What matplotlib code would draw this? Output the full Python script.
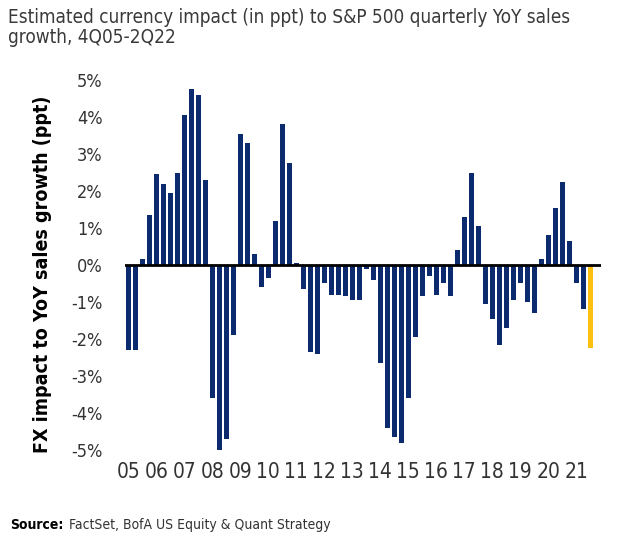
import matplotlib
matplotlib.use("Agg")
import matplotlib.pyplot as plt

plt.rcParams['font.family'] = ['DejaVu Sans']
plt.rcParams['font.stretch'] = 'condensed'

# quarterly FX impact (ppt), 4Q05 .. 2Q22
quarters = ['4Q05'] + ['%dQ%02d' % (q, y) for y in range(6, 22) for q in range(1, 5)] + ['1Q22', '2Q22']
fx_impact = [
    -2.3,                      # 2005 Q4
    -2.3, 0.15, 1.35, 2.45,    # 2006
    2.2, 1.95, 2.5, 4.05,      # 2007
    4.75, 4.6, 2.3, -3.6,      # 2008
    -5.0, -4.7, -1.9, 3.55,    # 2009
    3.3, 0.3, -0.6, -0.35,     # 2010
    1.2, 3.8, 2.75, 0.05,      # 2011
    -0.65, -2.35, -2.4, -0.5,  # 2012
    -0.8, -0.8, -0.85, -0.95,  # 2013
    -0.95, -0.1, -0.4, -2.65,  # 2014
    -4.4, -4.65, -4.8, -3.6,   # 2015
    -1.95, -0.85, -0.3, -0.8,  # 2016
    -0.5, -0.85, 0.4, 1.3,     # 2017
    2.5, 1.05, -1.05, -1.45,   # 2018
    -2.15, -1.7, -0.95, -0.5,  # 2019
    -1.0, -1.3, 0.15, 0.8,     # 2020
    1.55, 2.25, 0.65, -0.5,    # 2021
    -1.2, -2.25,               # 2022
]
year_labels = ['%02d' % y for y in range(5, 22)]
y_ticks = [5, 4, 3, 2, 1, 0, -1, -2, -3, -4, -5]

navy = '#0c2b6e'
gold = '#fcc010'
grey = '#333333'

colors = [navy] * (len(fx_impact) - 1) + [gold]
x = list(range(len(fx_impact)))

fig = plt.figure(figsize=(6.3, 5.36), dpi=100)
ax = fig.add_axes([0.1981, 0.1399, 0.7556, 0.7314])

ax.bar(x, fx_impact, width=0.68, color=colors, zorder=2)
ax.axhline(0, color='black', linewidth=2, zorder=3)

ax.set_xlim(-0.5, 67.5)
ax.set_ylim(-5.3, 5.3)

# year labels sit under the 4th quarter of each year
ax.set_xticks([quarters.index('4Q%s' % yl) for yl in year_labels])
ax.set_xticklabels(year_labels, fontsize=15, color=grey)
ax.set_yticks(y_ticks)
ax.set_yticklabels(['%d%%' % v for v in y_ticks], fontsize=13, color=grey)
ax.tick_params(axis='x', length=0, pad=1)
ax.tick_params(axis='y', length=0, pad=16)

for s in ax.spines.values():
    s.set_visible(False)

ax.set_ylabel('FX impact to YoY sales growth (ppt)', fontsize=14, fontweight='bold',
              color='black')
ax.yaxis.set_label_coords(-0.152, 0.475)

fig.text(0.013, 0.985, 'Estimated currency impact (in ppt) to S&P 500 quarterly YoY sales\ngrowth, 4Q05-2Q22',
         fontsize=13.6, color='#3a3a3a', va='top', ha='left', linespacing=1.05)

src = fig.text(0.016, 0.008, 'Source:', fontsize=10, fontweight='bold', color='black', va='bottom')
ax.annotate('FactSet, BofA US Equity & Quant Strategy', xy=(1, 0), xycoords=src,
            xytext=(4, 0), textcoords='offset points', fontsize=10, color=grey,
            va='bottom', ha='left', annotation_clip=False)

fig.savefig('out.png', dpi=100)
